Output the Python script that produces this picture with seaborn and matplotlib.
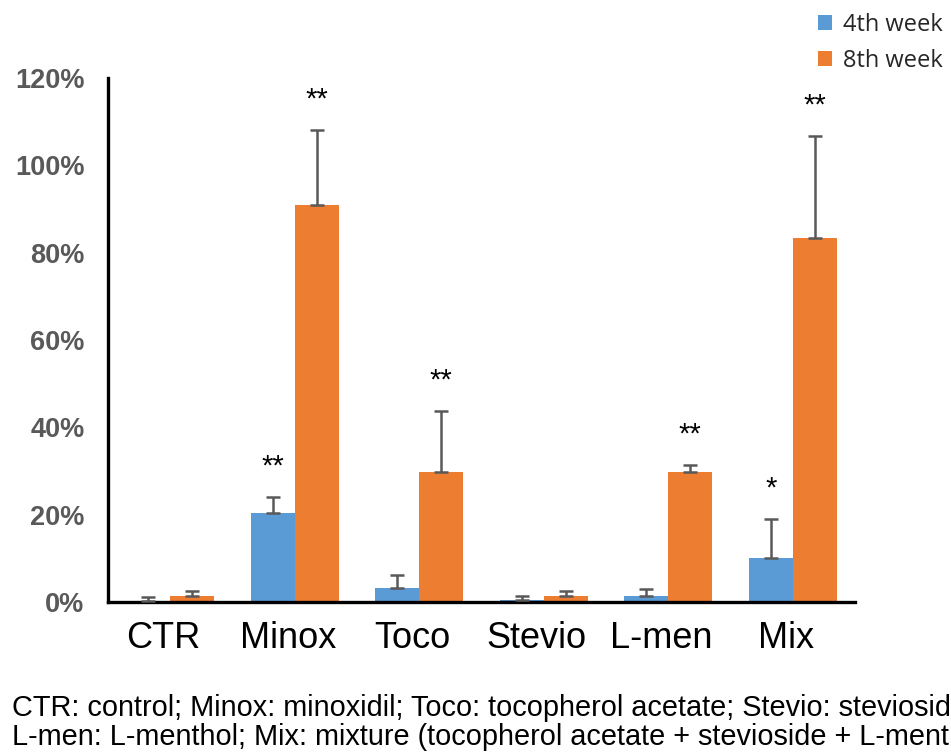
import numpy as np
import pandas as pd
import matplotlib
matplotlib.use("Agg")
import matplotlib.pyplot as plt
import matplotlib.transforms as mtransforms
import seaborn as sns

# ---- data (percent change) ----
groups = ["CTR", "Minox", "Toco", "Stevio", "L-men", "Mix"]
series = ["4th week", "8th week"]
week4_mean = [0.3, 20.3, 3.2, 0.4, 1.4, 10.0]
week4_err = [0.8, 3.8, 3.0, 1.0, 1.6, 9.0]
week8_mean = [1.3, 91.0, 29.8, 1.3, 29.8, 83.4]
week8_err = [1.2, 17.1, 13.9, 1.2, 1.6, 23.3]
week4_sig = ["", "**", "", "", "", "*"]
week8_sig = ["", "**", "**", "", "**", "**"]
# caption as visible in the (cropped) original figure
caption_lines = ["CTR: control; Minox: minoxidil; Toco: tocopherol acetate; Stevio: steviosid",
                 "L-men: L-menthol; Mix: mixture (tocopherol acetate + stevioside + L-ment"]

df = pd.DataFrame({
    "group": groups * 2,
    "week": [series[0]] * len(groups) + [series[1]] * len(groups),
    "value": week4_mean + week8_mean,
})
errs = [week4_err, week8_err]
tops = [week4_mean, week8_mean]
sigs = [week4_sig, week8_sig]

sns.set_style("white")
plt.rcParams["font.family"] = ["Liberation Sans", "DejaVu Sans"]

fig = plt.figure(figsize=(9.51, 7.53), dpi=100)
ax = fig.add_axes([108 / 951, 1 - 602 / 753, (855 - 108) / 951, (602 - 78) / 753])

sns.barplot(data=df, x="group", y="value", hue="week", order=groups, hue_order=series,
            palette=["#5B9BD5", "#ED7D31"], width=0.707, gap=0, errorbar=None,
            saturation=1, linewidth=0, ax=ax)

# error bars (upper only) + significance stars
bar_sets = list(ax.containers)
for i, cont in enumerate(bar_sets):
    xs = [p.get_x() + p.get_width() / 2 for p in cont.patches]
    ax.errorbar(xs, tops[i], yerr=[np.zeros(len(xs)), errs[i]], fmt="none",
                ecolor="#595959", elinewidth=1.8, capsize=5, capthick=1.8, zorder=3)
    for x, m, e, s in zip(xs, tops[i], errs[i], sigs[i]):
        if s:
            ax.annotate(s, (x, m + e), xytext=(0, 22), textcoords="offset points",
                        ha="center", va="center", fontsize=21, color="black")

ax.set_xlim(-0.5, len(groups) - 0.5)
ax.set_ylim(0, 120)
ax.set_yticks(range(0, 121, 20))
ax.yaxis.set_major_formatter(matplotlib.ticker.StrMethodFormatter("{x:.0f}%"))
ax.set_xlabel("")
ax.set_ylabel("")
for side in ["top", "right"]:
    ax.spines[side].set_visible(False)
for side in ["left", "bottom"]:
    ax.spines[side].set_color("black")
    ax.spines[side].set_linewidth(2.4)
ax.tick_params(axis="y", direction="in", length=6, width=2, color="black",
               labelsize=19.5, labelcolor="#595959", pad=17)
for lab in ax.get_yticklabels():
    lab.set_fontweight("bold")
ax.tick_params(axis="x", length=0, labelsize=26, labelcolor="black", pad=14)
shift = mtransforms.ScaledTranslation(-7 / 100, 0, fig.dpi_scale_trans)
for lab in ax.get_xticklabels():
    lab.set_transform(lab.get_transform() + shift)

sns.move_legend(ax, "upper left", bbox_to_anchor=(818 / 951, 1 - 13 / 753),
                bbox_transform=fig.transFigure, frameon=False, title=None,
                prop={"family": "Open Sans", "size": 17}, handlelength=0.6,
                handleheight=0.6, handletextpad=0.45, labelspacing=0.5,
                borderpad=0, borderaxespad=0)

for k, line in enumerate(caption_lines):
    fig.text(12 / 951, 1 - (716 + 29 * k) / 753, line, fontsize=20.8, color="black",
             ha="left", va="baseline", family="Liberation Sans")

fig.savefig("out.png", dpi=100)
